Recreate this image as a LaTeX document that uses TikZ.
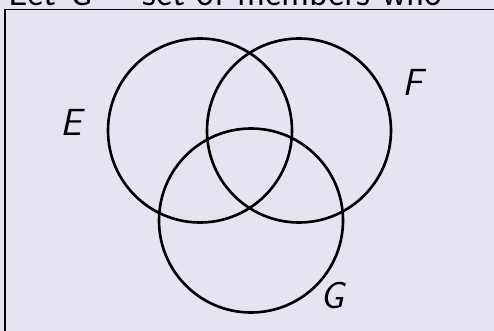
\documentclass[tikz,border=0pt]{standalone}
\usepackage{tikz}
\definecolor{slidebg}{RGB}{229,229,242}

\begin{document}
\begin{tikzpicture}[x=0.02cm, y=-0.02cm,
    font=\sffamily\fontsize{21.5}{26}\selectfont,
    set/.style={draw=black, line width=1.5pt},
    setname/.style={inner sep=0pt, font=\sffamily\itshape\fontsize{21.5}{26}\selectfont}]
    \useasboundingbox (0,0) rectangle (494,331);
    \clip (0,0) rectangle (494,331);
    \fill[slidebg] (0,0) rectangle (494,331);
    % heading line, cut off at the top of the picture
    \node[anchor=base west, inner sep=0pt] (head) at (8,6) {Let {\itshape G} = set of members who};
    % frame of the universe
    \draw[line width=1.1pt] (5,9.5) rectangle (530,360);
    % the three sets
    \coordinate (e) at (200,130.5);
    \coordinate (f) at (299,130.5);
    \coordinate (g) at (251,220.5);
    \draw[set] (e) circle[radius=92];
    \draw[set] (f) circle[radius=92];
    \draw[set] (g) circle[radius=92];
    \node[setname] (lE) at (71,122.5) {E};
    \node[setname] (lF) at (413,82) {F};
    \node[setname] (lG) at (332,296) {G};
\end{tikzpicture}
\end{document}
